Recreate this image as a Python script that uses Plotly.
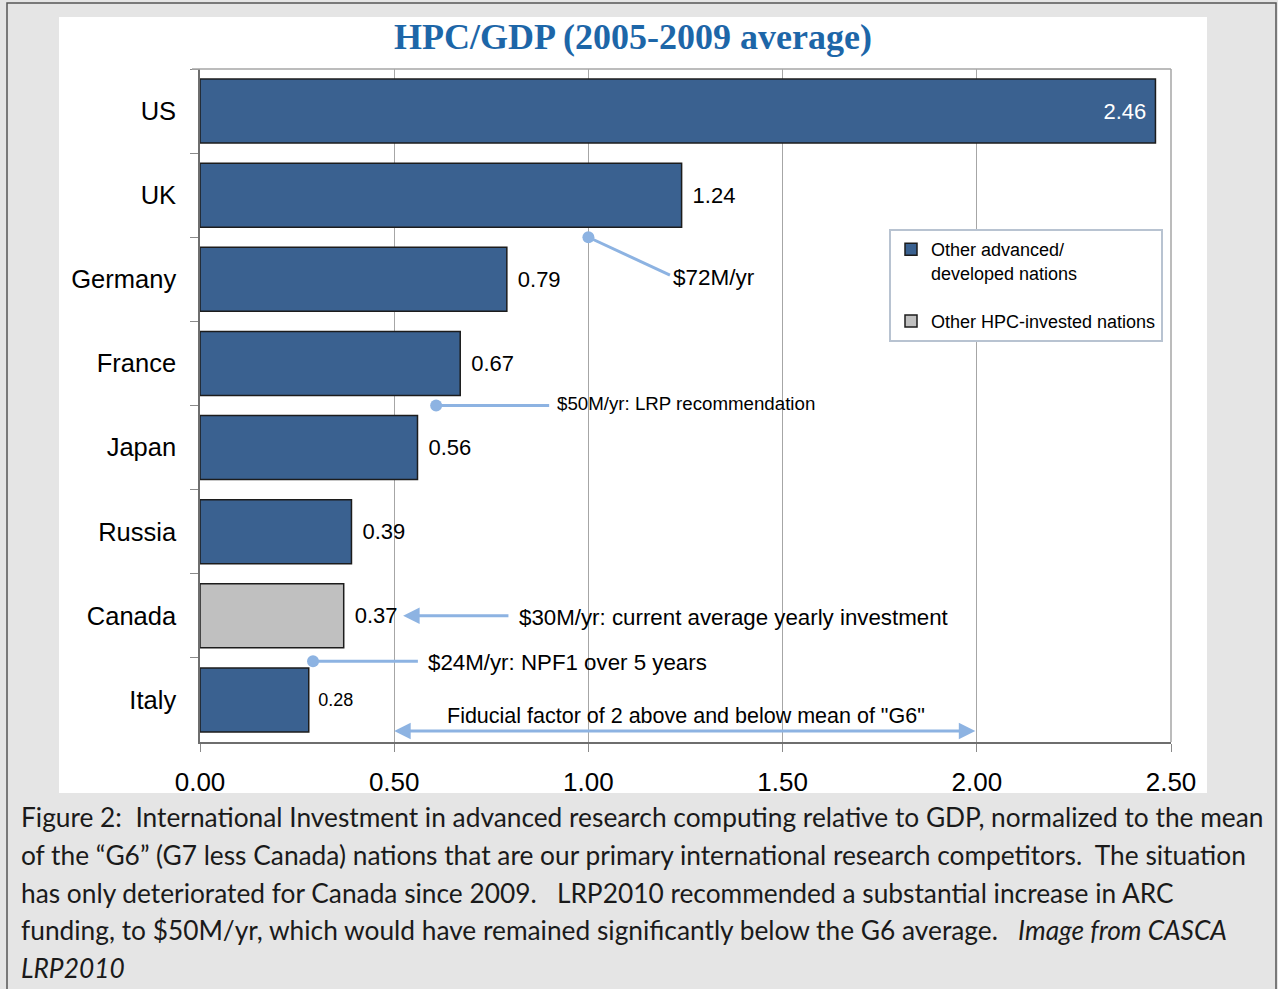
import plotly.graph_objects as go

# ---------------- data ----------------
countries = ["US", "UK", "Germany", "France", "Japan", "Russia", "Canada", "Italy"]
values = [2.46, 1.24, 0.79, 0.67, 0.56, 0.39, 0.37, 0.28]
group = ["adv", "adv", "adv", "adv", "adv", "adv", "hpc", "adv"]
label_size = [22, 22, 22, 22, 22, 22, 22, 18]
x_ticks = [0.0, 0.5, 1.0, 1.5, 2.0, 2.5]
x_ticklabels = ["0.00", "0.50", "1.00", "1.50", "2.00", "2.50"]

legend_adv = "Other advanced/<br>developed nations"
legend_hpc = "Other HPC-invested nations"

# callouts with a dot at the start: (x_dot, y_dot, x_end, y_end, text_x, text_y, text, size)
dot_callouts = [
    (1.00, 1.50, 1.21, 1.95, 1.213, 1.98, "$72M/yr", 22.5),
    (0.608, 3.50, 0.899, 3.50, 0.915, 3.48, "$50M/yr: LRP recommendation", 18.7),
    (0.291, 6.54, 0.561, 6.54, 0.583, 6.55, "$24M/yr: NPF1 over 5 years", 22.3),
]
# arrow callouts: (x_head, y, x_tail, text_x, text_y, text, both_ends)
arrow_callouts = [
    (0.523, 6.00, 0.798, 0.815, 6.02, "$30M/yr: current average yearly investment", False),
    (0.50, 7.37, 2.00, 1.25, 7.19, "Fiducial factor of 2 above and below mean of \"G6\"", True),
]

caption_lines = [
    "Figure 2:  International Investment in advanced research computing relative to GDP, normalized to the mean",
    "of the \u201cG6\u201d (G7 less Canada) nations that are our primary international research competitors.  The situation",
    "has only deteriorated for Canada since 2009.   LRP2010 recommended a substantial increase in ARC",
    "funding, to $50M/yr, which would have remained significantly below the G6 average.   <i>Image from CASCA</i>",
    "<i>LRP2010</i>",
]

# ---------------- geometry ----------------
W, H = 1278, 989
L, R, T, B = 200, 107, 69, 247
PW, PH = W - L - R, H - T - B


def px(x):
    return (x - L) / PW


def py(y):
    return (H - B - y) / PH


BLUE = "#3a6190"
GRAY = "#c0c0c0"
CALL = "#8db3e2"
SANS = "Liberation Sans, Arial, sans-serif"

fig = go.Figure()

for key, name, color in [("adv", legend_adv, BLUE), ("hpc", legend_hpc, GRAY)]:
    idx = [i for i, g in enumerate(group) if g == key]
    xs = [values[i] for i in idx]
    ys = [countries[i] for i in idx]
    pos = ["inside" if values[i] > 2 else "outside" for i in idx]
    txt = [("%.2f\u00a0" % values[i]) if values[i] > 2 else ("\u00a0\u200a%.2f" % values[i]) for i in idx]
    sizes = [label_size[i] for i in idx]
    fig.add_trace(go.Bar(
        x=xs, y=ys, orientation="h", name=name,
        marker=dict(color=color, line=dict(color="#1c1c1c", width=1.5)),
        text=txt, textposition=pos, insidetextanchor="end",
        insidetextfont=dict(color="white", size=22, family=SANS),
        outsidetextfont=dict(color="black", size=sizes, family=SANS),
        cliponaxis=False, legendgroup=key, hoverinfo="skip",
    ))

for (xd, yd, xe, ye, tx, ty, t, s) in dot_callouts:
    fig.add_shape(type="line", xref="x", yref="y", x0=xd, y0=yd, x1=xe, y1=ye,
                  line=dict(color=CALL, width=3))
    fig.add_shape(type="circle", xref="x", yref="y", xsizemode="pixel", ysizemode="pixel",
                  xanchor=xd, yanchor=yd, x0=-6, x1=6, y0=-6, y1=6,
                  fillcolor=CALL, line=dict(width=0))
    fig.add_annotation(x=tx, y=ty, xref="x", yref="y", text=t, showarrow=False,
                       xanchor="left", yanchor="middle", font=dict(family=SANS, size=s, color="black"))

for (xh, y, xt, tx, ty, t, both) in arrow_callouts:
    fig.add_annotation(x=xh, y=y, ax=xt, ay=y, xref="x", yref="y", axref="x", ayref="y",
                       text="", showarrow=True, arrowhead=2, arrowsize=1.1, arrowwidth=3,
                       arrowcolor=CALL, arrowside="end+start" if both else "end")
    fig.add_annotation(x=tx, y=ty, xref="x", yref="y", text=t, showarrow=False,
                       xanchor="center" if both else "left", yanchor="middle",
                       font=dict(family=SANS, size=21.5 if both else 22.3, color="black"))

# background panels
fig.add_shape(type="rect", xref="paper", yref="paper", x0=px(7), x1=px(1276), y0=py(3), y1=py(995),
              fillcolor="#e5e5e5", line=dict(color="#555555", width=1.5), layer="below")
fig.add_shape(type="rect", xref="paper", yref="paper", x0=px(59), x1=px(1207), y0=py(17), y1=py(793),
              fillcolor="white", line=dict(width=0), layer="below")
# top / right frame lines of the plot area
fig.add_shape(type="line", xref="paper", yref="paper", x0=px(192), x1=1, y0=1, y1=1,
              line=dict(color="#a6a6a6", width=1.5))
fig.add_shape(type="line", xref="paper", yref="paper", x0=1, x1=1, y0=0, y1=1,
              line=dict(color="#a6a6a6", width=1.5))

# title
fig.add_annotation(xref="paper", yref="paper", x=px(633), y=py(37), text="<b>HPC/GDP (2005-2009 average)</b>",
                   showarrow=False, xanchor="center", yanchor="middle",
                   font=dict(family="Liberation Serif, serif", size=36, color="#1d66a8"))

# caption
for i, line in enumerate(caption_lines):
    fig.add_annotation(xref="paper", yref="paper", x=px(19), y=py(817 + 37.8 * i), text=line,
                       showarrow=False, xanchor="left", yanchor="middle",
                       font=dict(family="Lato, sans-serif", size=26.3, color="#1a1a1a"))

fig.update_layout(
    width=W, height=H, margin=dict(l=L, r=R, t=T, b=B, pad=0),
    paper_bgcolor="#e5e5e5", plot_bgcolor="white",
    barmode="overlay", bargap=0.24,
    showlegend=True,
    legend=dict(x=px(889), y=py(229), xanchor="left", yanchor="top",
                bgcolor="white", bordercolor="#b8c3d1", borderwidth=2,
                font=dict(family=SANS, size=18, color="black"),
                tracegroupgap=22, valign="top", itemwidth=30),
    xaxis=dict(range=[0, 2.5], tickvals=x_ticks, ticktext=x_ticklabels,
               showgrid=True, gridcolor="#a6a6a6", gridwidth=1, zeroline=False,
               showline=True, linecolor="#6e6e6e", linewidth=1.5,
               ticks="outside", ticklen=8, tickcolor="#8a8a8a",
               ticklabelstandoff=8,
               tickfont=dict(family=SANS, size=26, color="black")),
    yaxis=dict(categoryorder="array", categoryarray=countries, range=[7.5, -0.5],
               showgrid=False, zeroline=False, showline=True, linecolor="#6e6e6e", linewidth=1.5,
               ticks="outside", ticklen=8, tickcolor="#8a8a8a", tickson="boundaries",
               ticklabelstandoff=17,
               tickfont=dict(family=SANS, size=25.5, color="black")),
)

fig.write_html("out.html")
